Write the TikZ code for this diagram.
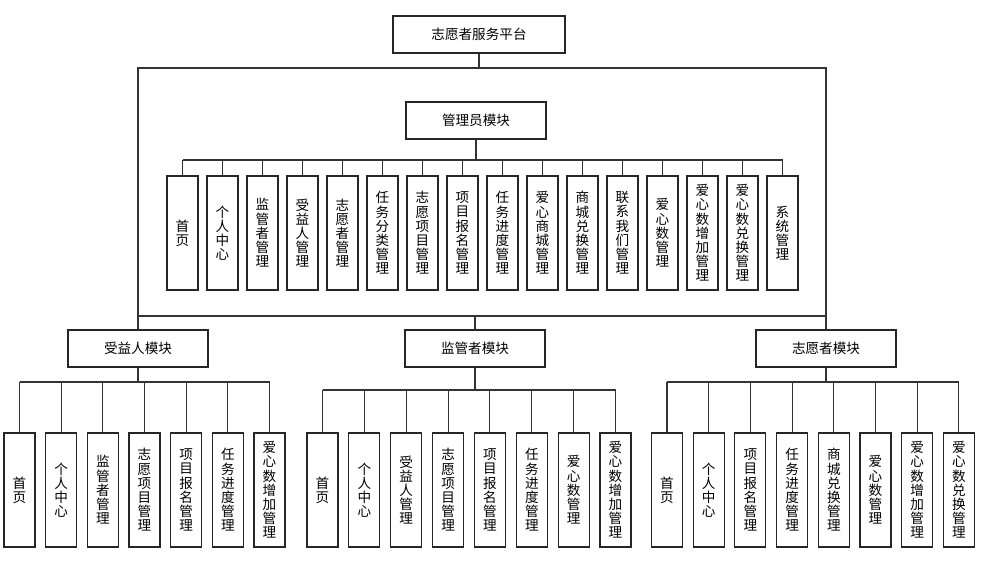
\documentclass[tikz,border=0pt]{standalone}
\usepackage{fontspec}
\newfontfamily\cnfont{Noto Sans CJK SC}

\begin{document}
\begin{tikzpicture}[x=1pt, y=-1pt, line width=1.1pt,
    font={\cnfont\fontsize{13.6pt}{14.2pt}\selectfont},
    box/.style={draw=black!85, fill=white, minimum width=140pt, minimum height=37pt, inner sep=0pt},
    leaf/.style={draw=black!85, fill=white, minimum width=31pt, minimum height=114pt, inner sep=0pt, align=center},
    link/.style={draw=black!80}]
  \useasboundingbox (0,0) rectangle (983,566);
  \def\leafy{490}
  % top and modules
  \node[box, minimum width=172pt] (platform) at (479,34.5) {志愿者服务平台};
  \node[box] (admin) at (476,120.5) {管理员模块};
  \node[box] (benef) at (138,348.5) {受益人模块};
  \node[box] (super) at (475,348.5) {监管者模块};
  \node[box] (volun) at (826,348.5) {志愿者模块};
  % frame round the admin module
  \coordinate (fTL) at (138,68);
  \coordinate (fTR) at (826,68);
  \coordinate (fBL) at (138,316);
  \coordinate (fBR) at (826,316);
  \draw[link] (platform.south) -- (platform.south |- fTL);
  \draw[link] (benef.north) -- (fTL) -- (fTR) -- (volun.north);
  \draw[link] (fBL) -- (fBR);
  \draw[link] (super.north) -- (super.north |- fBL);
  % admin leaves
  \coordinate (abus) at (0,160);
  \foreach \t [count=\i from 0] in {首\\页, 个\\人\\中\\心, 监\\管\\者\\管\\理, 受\\益\\人\\管\\理,
      志\\愿\\者\\管\\理, 任\\务\\分\\类\\管\\理, 志\\愿\\项\\目\\管\\理, 项\\目\\报\\名\\管\\理,
      任\\务\\进\\度\\管\\理, 爱\\心\\商\\城\\管\\理, 商\\城\\兑\\换\\管\\理, 联\\系\\我\\们\\管\\理,
      爱\\心\\数\\管\\理, 爱\\心\\数\\增\\加\\管\\理, 爱\\心\\数\\兑\\换\\管\\理, 系\\统\\管\\理} {
    \node[leaf] (adm\i) at (182.5+40*\i,233) {\t};
    \draw[link] (adm\i.north) -- (adm\i.north |- abus);
  }
  \draw[link] (adm0.north |- abus) -- (adm15.north |- abus);
  \draw[link] (admin.south) -- (admin.south |- abus);
  % beneficiary leaves
  \coordinate (bbus) at (0,382);
  \foreach \t [count=\i from 0] in {首\\页, 个\\人\\中\\心, 监\\管\\者\\管\\理, 志\\愿\\项\\目\\管\\理,
      项\\目\\报\\名\\管\\理, 任\\务\\进\\度\\管\\理, 爱\\心\\数\\增\\加\\管\\理} {
    \node[leaf] (ben\i) at (19.5+41.67*\i,\leafy) {\t};
    \draw[link] (ben\i.north) -- (ben\i.north |- bbus);
  }
  \draw[link] (ben0.north |- bbus) -- (ben6.north |- bbus);
  \draw[link] (benef.south) -- (benef.south |- bbus);
  % supervisor leaves
  \coordinate (sbus) at (0,390);
  \foreach \t [count=\i from 0] in {首\\页, 个\\人\\中\\心, 受\\益\\人\\管\\理, 志\\愿\\项\\目\\管\\理,
      项\\目\\报\\名\\管\\理, 任\\务\\进\\度\\管\\理, 爱\\心\\数\\管\\理, 爱\\心\\数\\增\\加\\管\\理} {
    \node[leaf] (sup\i) at (322.5+41.86*\i,\leafy) {\t};
    \draw[link] (sup\i.north) -- (sup\i.north |- sbus);
  }
  \draw[link] (sup0.north |- sbus) -- (sup7.north |- sbus);
  \draw[link] (super.south) -- (super.south |- sbus);
  % volunteer leaves
  \coordinate (vbus) at (0,382);
  \foreach \t [count=\i from 0] in {首\\页, 个\\人\\中\\心, 项\\目\\报\\名\\管\\理, 任\\务\\进\\度\\管\\理,
      商\\城\\兑\\换\\管\\理, 爱\\心\\数\\管\\理, 爱\\心\\数\\增\\加\\管\\理, 爱\\心\\数\\兑\\换\\管\\理} {
    \node[leaf] (vol\i) at (667+41.7*\i,\leafy) {\t};
    \draw[link] (vol\i.north) -- (vol\i.north |- vbus);
  }
  \draw[link] (vol0.north |- vbus) -- (vol7.north |- vbus);
  \draw[link] (volun.south) -- (volun.south |- vbus);
\end{tikzpicture}
\end{document}
